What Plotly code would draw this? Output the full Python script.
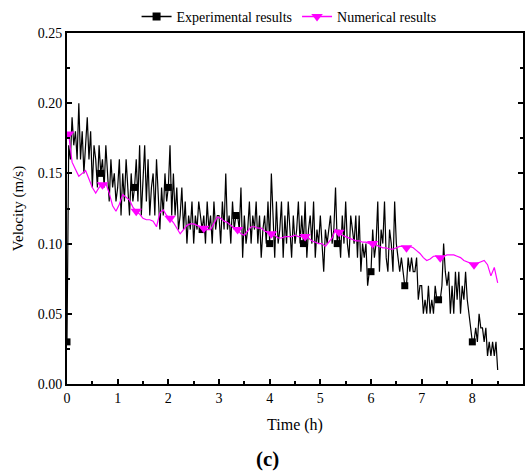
import plotly.graph_objects as go

# Measured flow velocity (m/s), sampled every 2 minutes (1/30 h)
exp_step_h = 1.0 / 30.0
exp_velocity = [
    # 0 - 1 h
    0.03, 0.17, 0.16, 0.19, 0.17, 0.18, 0.16, 0.20, 0.16, 0.18,
    0.15, 0.17, 0.19, 0.16, 0.18, 0.14, 0.17, 0.16, 0.14, 0.17,
    0.15, 0.16, 0.14, 0.17, 0.15, 0.13, 0.16, 0.14, 0.15, 0.13,
    # 1 - 2 h
    0.14, 0.16, 0.12, 0.15, 0.13, 0.16, 0.14, 0.12, 0.15, 0.13,
    0.14, 0.16, 0.13, 0.17, 0.12, 0.15, 0.17, 0.13, 0.16, 0.12,
    0.14, 0.15, 0.12, 0.16, 0.13, 0.11, 0.14, 0.12, 0.15, 0.13,
    # 2 - 3 h
    0.14, 0.17, 0.12, 0.15, 0.12, 0.14, 0.11, 0.12, 0.14, 0.11,
    0.13, 0.10, 0.12, 0.11, 0.13, 0.10, 0.12, 0.11, 0.13, 0.12,
    0.11, 0.12, 0.10, 0.13, 0.11, 0.12, 0.10, 0.13, 0.11, 0.12,
    # 3 - 4 h
    0.12, 0.10, 0.13, 0.11, 0.15, 0.11, 0.12, 0.10, 0.13, 0.11,
    0.12, 0.12, 0.11, 0.14, 0.09, 0.12, 0.10, 0.11, 0.13, 0.10,
    0.12, 0.11, 0.13, 0.10, 0.12, 0.09, 0.11, 0.12, 0.10, 0.13,
    # 4 - 5 h
    0.10, 0.15, 0.12, 0.09, 0.13, 0.10, 0.11, 0.13, 0.09, 0.12,
    0.10, 0.13, 0.11, 0.09, 0.12, 0.10, 0.11, 0.13, 0.10, 0.12,
    0.10, 0.13, 0.09, 0.11, 0.12, 0.10, 0.13, 0.09, 0.11, 0.10,
    # 5 - 6 h
    0.12, 0.10, 0.08, 0.11, 0.10, 0.11, 0.12, 0.10, 0.11, 0.14,
    0.10, 0.11, 0.09, 0.12, 0.10, 0.13, 0.10, 0.09, 0.12, 0.11,
    0.10, 0.12, 0.09, 0.12, 0.08, 0.10, 0.09, 0.10, 0.07, 0.08,
    # 6 - 7 h
    0.08, 0.11, 0.09, 0.10, 0.13, 0.08, 0.11, 0.10, 0.13, 0.09,
    0.08, 0.11, 0.10, 0.08, 0.13, 0.10, 0.09, 0.08, 0.09, 0.08,
    0.07, 0.07, 0.09, 0.08, 0.09, 0.08, 0.08, 0.09, 0.06, 0.07,
    # 7 - 8 h
    0.07, 0.05, 0.06, 0.05, 0.07, 0.05, 0.06, 0.05, 0.07, 0.06,
    0.06, 0.06, 0.07, 0.10, 0.08, 0.07, 0.08, 0.05, 0.07, 0.05,
    0.08, 0.06, 0.08, 0.05, 0.07, 0.06, 0.08, 0.06, 0.05, 0.04,
    # 8 - 8.5 h
    0.03, 0.03, 0.04, 0.03, 0.05, 0.04, 0.04, 0.03, 0.04, 0.02,
    0.03, 0.02, 0.03, 0.02, 0.03, 0.01,
]

# Simulated velocity (m/s), output every 4 minutes starting at 2 minutes
num_start_h = 1.0 / 30.0
num_step_h = 1.0 / 15.0
num_velocity = [
    0.178, 0.158, 0.153, 0.148, 0.150, 0.152, 0.146, 0.140, 0.136, 0.140,
    0.142, 0.143, 0.136, 0.127, 0.123, 0.128, 0.135, 0.133, 0.131, 0.126,
    0.123, 0.121, 0.118, 0.117, 0.117, 0.116, 0.112, 0.122, 0.124, 0.120,
    0.118, 0.115, 0.111, 0.107, 0.110, 0.113, 0.114, 0.114, 0.113, 0.112,
    0.111, 0.110, 0.110, 0.114, 0.119, 0.118, 0.116, 0.115, 0.113, 0.111,
    0.110, 0.107, 0.106, 0.109, 0.112, 0.112, 0.111, 0.111, 0.109, 0.108,
    0.107, 0.106, 0.104, 0.104, 0.105, 0.105, 0.105, 0.106, 0.105, 0.105,
    0.105, 0.104, 0.102, 0.101, 0.100, 0.100, 0.098, 0.101, 0.104, 0.110,
    0.108, 0.106, 0.105, 0.104, 0.103, 0.102, 0.102, 0.101, 0.101, 0.100,
    0.100, 0.099, 0.098, 0.097, 0.097, 0.096, 0.096, 0.097, 0.098, 0.098,
    0.097, 0.098, 0.097, 0.095, 0.093, 0.090, 0.088, 0.089, 0.091, 0.091,
    0.090, 0.091, 0.092, 0.092, 0.092, 0.091, 0.090, 0.088, 0.087, 0.086,
    0.085, 0.086, 0.087, 0.088, 0.085, 0.077, 0.083, 0.072,
]

exp_marker_every = 20
num_marker_every = 10

x_ticks = [0, 1, 2, 3, 4, 5, 6, 7, 8, 9]
y_ticks = [0.00, 0.05, 0.10, 0.15, 0.20, 0.25]

exp_time = [i * exp_step_h for i in range(len(exp_velocity))]
num_time = [num_start_h + i * num_step_h for i in range(len(num_velocity))]

BLACK = "#000000"
MAGENTA = "#FF00FF"
FONT = "Times New Roman, Liberation Serif, serif"

fig = go.Figure()

# Experimental: full line, then sparse square markers
fig.add_trace(go.Scatter(
    x=exp_time, y=exp_velocity, mode="lines",
    line=dict(color=BLACK, width=1.2), showlegend=False, hoverinfo="skip"))
fig.add_trace(go.Scatter(
    x=exp_time[::exp_marker_every], y=exp_velocity[::exp_marker_every],
    mode="markers", marker=dict(symbol="square", size=7, color=BLACK),
    showlegend=False))

# Numerical: full line, then sparse down-triangle markers
fig.add_trace(go.Scatter(
    x=num_time, y=num_velocity, mode="lines",
    line=dict(color=MAGENTA, width=1.2), showlegend=False, hoverinfo="skip"))
fig.add_trace(go.Scatter(
    x=num_time[::num_marker_every], y=num_velocity[::num_marker_every],
    mode="markers", marker=dict(symbol="triangle-down", size=10, color=MAGENTA),
    showlegend=False))

# Legend entries (line + symbol)
fig.add_trace(go.Scatter(
    x=[None], y=[None], mode="lines+markers", name="Experimental results",
    line=dict(color=BLACK, width=1.5),
    marker=dict(symbol="square", size=8, color=BLACK)))
fig.add_trace(go.Scatter(
    x=[None], y=[None], mode="lines+markers", name="Numerical results",
    line=dict(color=MAGENTA, width=1.5),
    marker=dict(symbol="triangle-down", size=10, color=MAGENTA)))

axis_common = dict(
    showgrid=False, zeroline=False,
    showline=True, linecolor=BLACK, linewidth=2,
    ticks="inside", ticklen=5, tickwidth=2, tickcolor=BLACK,
    tickfont=dict(family=FONT, size=14, color=BLACK),
)

fig.update_xaxes(
    **axis_common, range=[0, 9], tickvals=x_ticks, mirror=True,
    minor=dict(ticks="inside", ticklen=3, tickwidth=2, tickcolor=BLACK, dtick=0.5),
    title=dict(text="Time (h)", font=dict(family=FONT, size=16, color=BLACK),
               standoff=14),
)
fig.update_yaxes(
    **axis_common, range=[0, 0.25], tickvals=y_ticks, tickformat=".2f",
    mirror="ticks",
    minor=dict(ticks="inside", ticklen=3, tickwidth=2, tickcolor=BLACK, dtick=0.025),
    title=dict(text="Velocity (m/s)", font=dict(family=FONT, size=15, color=BLACK),
               standoff=10),
)

fig.add_annotation(
    text="<b>(c)</b>", xref="paper", yref="paper", x=0.44, y=-0.215,
    xanchor="center", yanchor="middle", showarrow=False,
    font=dict(family=FONT, size=21, color=BLACK))

fig.update_layout(
    width=526, height=473,
    margin=dict(l=67, r=1, t=33, b=89),
    paper_bgcolor="white", plot_bgcolor="white",
    font=dict(family=FONT, color=BLACK),
    legend=dict(orientation="h", x=0.487, y=1.046, xanchor="center",
                yanchor="middle", font=dict(family=FONT, size=14, color=BLACK),
                bgcolor="rgba(0,0,0,0)", itemwidth=30),
)

fig.write_html("out.html")
